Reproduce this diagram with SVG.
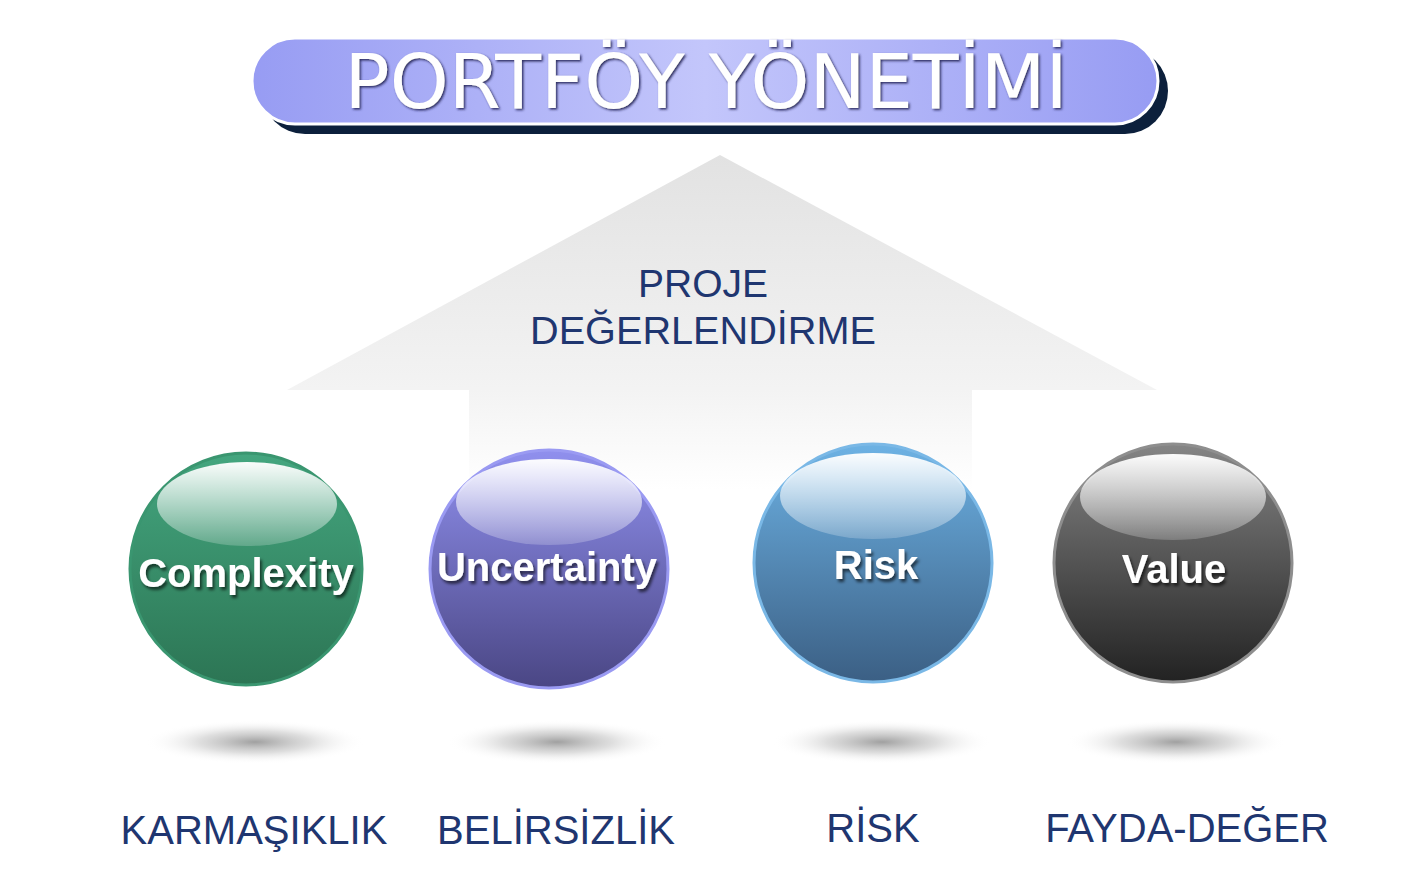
<svg xmlns="http://www.w3.org/2000/svg" width="1422" height="872" viewBox="0 0 1422 872">
<defs>
<style>
.lbl{font-family:"Liberation Sans",Arial,sans-serif;font-size:40px;fill:#1f3670;text-anchor:middle}
.sph{font-family:"Liberation Sans",Arial,sans-serif;font-weight:bold;font-size:40px;fill:#ffffff;text-anchor:middle}
</style>
<linearGradient id="pill" x1="0" y1="0" x2="1" y2="0">
<stop offset="0" stop-color="#979cf3"/><stop offset="0.5" stop-color="#c3c6fb"/><stop offset="1" stop-color="#979cf3"/>
</linearGradient>
<linearGradient id="arrow" x1="0" y1="0" x2="0" y2="1">
<stop offset="0" stop-color="#e2e2e2"/><stop offset="0.7" stop-color="#f3f3f3"/><stop offset="1" stop-color="#ffffff"/>
</linearGradient>
<linearGradient id="gGreen" x1="0" y1="0" x2="0" y2="1"><stop offset="0" stop-color="#44a67f"/><stop offset="1" stop-color="#2c7554"/></linearGradient>
<linearGradient id="gPurple" x1="0" y1="0" x2="0" y2="1"><stop offset="0" stop-color="#9090ee"/><stop offset="1" stop-color="#4a4684"/></linearGradient>
<linearGradient id="gBlue" x1="0" y1="0" x2="0" y2="1"><stop offset="0" stop-color="#6db2e4"/><stop offset="1" stop-color="#3b5f84"/></linearGradient>
<linearGradient id="gGray" x1="0" y1="0" x2="0" y2="1"><stop offset="0" stop-color="#858585"/><stop offset="1" stop-color="#222222"/></linearGradient>
<linearGradient id="hl" x1="0" y1="0" x2="0" y2="1"><stop offset="0" stop-color="#ffffff" stop-opacity="0.97"/><stop offset="1" stop-color="#ffffff" stop-opacity="0.2"/></linearGradient>
<radialGradient id="shadow" cx="0.5" cy="0.5" r="0.5"><stop offset="0" stop-color="#a0a0a0"/><stop offset="0.5" stop-color="#d0d0d0" stop-opacity="0.7"/><stop offset="1" stop-color="#ffffff" stop-opacity="0"/></radialGradient>
<filter id="ts" x="-10%" y="-30%" width="120%" height="160%"><feDropShadow dx="2" dy="3" stdDeviation="1.5" flood-color="#000000" flood-opacity="0.6"/></filter>
<filter id="tt" x="-5%" y="-20%" width="110%" height="140%"><feDropShadow dx="1.5" dy="1.5" stdDeviation="0.8" flood-color="#1a1f50" flood-opacity="0.9"/></filter>
</defs>
<rect width="1422" height="872" fill="#ffffff"/>
<g id="arrow-shape">
<path d="M720 155 L1157 390 L972 390 L972 490 L469 490 L469 390 L287 390 Z" fill="url(#arrow)"/>
<text class="lbl" x="703" y="297" style="font-size:39px">PROJE</text>
<text class="lbl" x="703" y="344" style="font-size:39px" textLength="346" lengthAdjust="spacingAndGlyphs">DEĞERLENDİRME</text>
</g>
<g id="title">
<rect x="262" y="48" width="906" height="86" rx="43" fill="#0c203c"/>
<rect x="252" y="38" width="906" height="86" rx="43" fill="url(#pill)" stroke="#ffffff" stroke-width="3"/>
<text x="706" y="108" font-family="DejaVu Sans,sans-serif" font-size="74" fill="#ffffff" text-anchor="middle" textLength="723" lengthAdjust="spacingAndGlyphs" filter="url(#tt)">PORTFÖY YÖNETİMİ</text>
</g>
<g id="shadows">
<ellipse cx="255" cy="742" rx="110" ry="22" fill="url(#shadow)"/>
<ellipse cx="557" cy="742" rx="110" ry="22" fill="url(#shadow)"/>
<ellipse cx="882" cy="742" rx="110" ry="22" fill="url(#shadow)"/>
<ellipse cx="1176" cy="742" rx="110" ry="22" fill="url(#shadow)"/>
</g>
<g id="node-complexity">
<circle cx="246" cy="569" r="116" fill="url(#gGreen)" stroke="#3a9670" stroke-width="3"/>
<ellipse cx="247" cy="504" rx="90" ry="42" fill="url(#hl)"/>
<text class="sph" x="246" y="587" filter="url(#ts)">Complexity</text>
</g>
<g id="node-uncertainty">
<circle cx="549" cy="569" r="119" fill="url(#gPurple)" stroke="#9a9af2" stroke-width="3"/>
<ellipse cx="549" cy="502" rx="93" ry="43" fill="url(#hl)"/>
<text class="sph" x="547" y="581" filter="url(#ts)">Uncertainty</text>
</g>
<g id="node-risk">
<circle cx="873" cy="563" r="119" fill="url(#gBlue)" stroke="#7ab8e6" stroke-width="3"/>
<ellipse cx="873" cy="496" rx="93" ry="43" fill="url(#hl)"/>
<text class="sph" x="876" y="579" filter="url(#ts)">Risk</text>
</g>
<g id="node-value">
<circle cx="1173" cy="563" r="119" fill="url(#gGray)" stroke="#8e8e8e" stroke-width="3"/>
<ellipse cx="1173" cy="497" rx="93" ry="43" fill="url(#hl)"/>
<text class="sph" x="1174" y="583" filter="url(#ts)">Value</text>
</g>
<g id="connectors"></g>
<g id="labels">
<text class="lbl" x="254" y="844">KARMAŞIKLIK</text>
<text class="lbl" x="556" y="844">BELİRSİZLİK</text>
<text class="lbl" x="873" y="842">RİSK</text>
<text class="lbl" x="1187" y="842">FAYDA-DEĞER</text>
</g>
</svg>
